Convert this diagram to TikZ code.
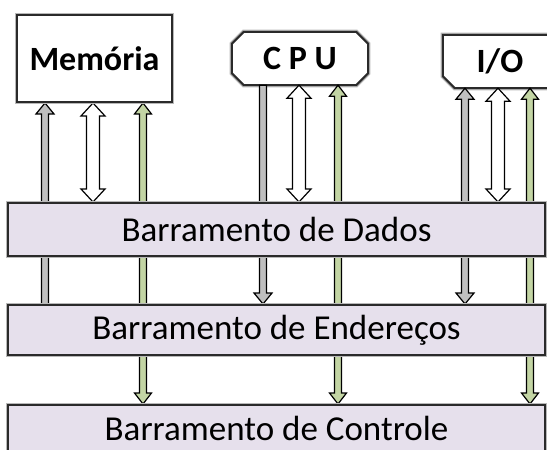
\documentclass[tikz,border=0pt]{standalone}
\usepackage{fontspec}
\setmainfont{Carlito}
\usetikzlibrary{calc,backgrounds}
\definecolor{addrcol}{HTML}{BFBFBF}
\definecolor{ctrlcol}{HTML}{C3D5A4}
\definecolor{barcol}{HTML}{E6E0EC}
\definecolor{edgecol}{HTML}{2A2A2A}
\newcommand\blk[3]{\draw[#1] let \p1=(#2), \p2=(#3) in
  (\x1,\y1) -- (\x1+\thw,\y1-\thl) -- (\x1+\sw,\y1-\thl) -- (\x2+\sw,\y2+\bhl)
  -- (\x2+\bhw,\y2+\bhl) -- (\x2,\y2) -- (\x2-\bhw,\y2+\bhl) -- (\x2-\sw,\y2+\bhl)
  -- (\x1-\sw,\y1-\thl) -- (\x1-\thw,\y1-\thl) -- cycle;}
\begin{document}
\begin{tikzpicture}[x=1pt,y=-1pt,
  softedge/.style={draw=edgecol, line width=2pt,
    preaction={draw=black!28, line width=4.5pt}},
  barnode/.style={softedge, fill=barcol, minimum width=537pt, inner sep=0pt,
    font=\fontsize{35}{40}\selectfont},
  boxtext/.style={inner sep=0pt, font=\fontsize{34}{40}\selectfont\bfseries},
  arrbase/.style={draw=black, line width=1.2pt, line join=miter},
  addrarr/.style={arrbase, fill=addrcol, /utils/exec={\def\sw{3.5pt}\def\hw{9pt}\def\hl{11pt}}},
  dataarr/.style={arrbase, fill=white, /utils/exec={\def\sw{6.5pt}\def\hw{12pt}\def\hl{13pt}}},
  ctrlarr/.style={arrbase, fill=ctrlcol, /utils/exec={\def\sw{3.5pt}\def\hw{8.5pt}\def\hl{11pt}}},
  tophead/.style={/utils/exec={\def\thw{\hw}\def\thl{\hl}}},
  flattop/.style={/utils/exec={\def\thw{\sw}\def\thl{0pt}}},
  bothead/.style={/utils/exec={\def\bhw{\hw}\def\bhl{\hl}}},
  flatbot/.style={/utils/exec={\def\bhw{\sw}\def\bhl{0pt}}}]
\useasboundingbox (0,0) rectangle (547,450);
% buses
\node[barnode, minimum height=53pt] (dados) at (276.5,229.5) {Barramento de Dados};
\node[barnode, minimum height=50pt] (ender) at (276.5,330) {Barramento de Endereços};
\node[barnode, minimum height=52pt, text depth=6pt] (ctrl) at (276.5,431) {Barramento de Controle};
% units
\node[boxtext, softedge, fill=white, minimum width=155pt, minimum height=87pt] (mem) at (94.5,58.5) {Memória};
\node[boxtext, minimum width=136pt, minimum height=53pt] (cpu) at (300,58.5) {C P U};
\node[boxtext, minimum width=114pt, minimum height=53pt] (io) at (500,61.5) {I/O};
\begin{pgfonlayer}{background}
\draw[softedge, fill=white] ([xshift=12pt]cpu.north west) -- ([xshift=-12pt]cpu.north east)
  -- ([yshift=-12pt]cpu.north east) -- ([yshift=12pt]cpu.south east)
  -- ([xshift=-12pt]cpu.south east) -- ([xshift=12pt]cpu.south west)
  -- ([yshift=12pt]cpu.south west) -- ([yshift=-12pt]cpu.north west) -- cycle;
\draw[softedge, fill=white] (io.north west) -- (io.north east) -- (io.south east)
  -- ([xshift=12pt]io.south west) -- ([yshift=12pt]io.south west) -- cycle;
% Memoria
\blk{addrarr,tophead,flatbot}{45,0 |- mem.south}{45,0 |- ender.north}
\blk{dataarr,tophead,bothead}{93,0 |- mem.south}{93,0 |- dados.north}
\blk{ctrlarr,tophead,bothead}{143,0 |- mem.south}{143,0 |- ctrl.north}
% CPU
\blk{addrarr,flattop,bothead}{263,0 |- cpu.south}{263,0 |- ender.north}
\blk{dataarr,tophead,bothead}{299,0 |- cpu.south}{299,0 |- dados.north}
\blk{ctrlarr,tophead,bothead}{338,0 |- cpu.south}{338,0 |- ctrl.north}
% I/O
\blk{addrarr,tophead,bothead}{465,0 |- io.south}{465,0 |- ender.north}
\blk{dataarr,tophead,bothead}{498,0 |- io.south}{498,0 |- dados.north}
\blk{ctrlarr,tophead,bothead}{530,0 |- io.south}{530,0 |- ctrl.north}
\end{pgfonlayer}
\end{tikzpicture}
\end{document}
